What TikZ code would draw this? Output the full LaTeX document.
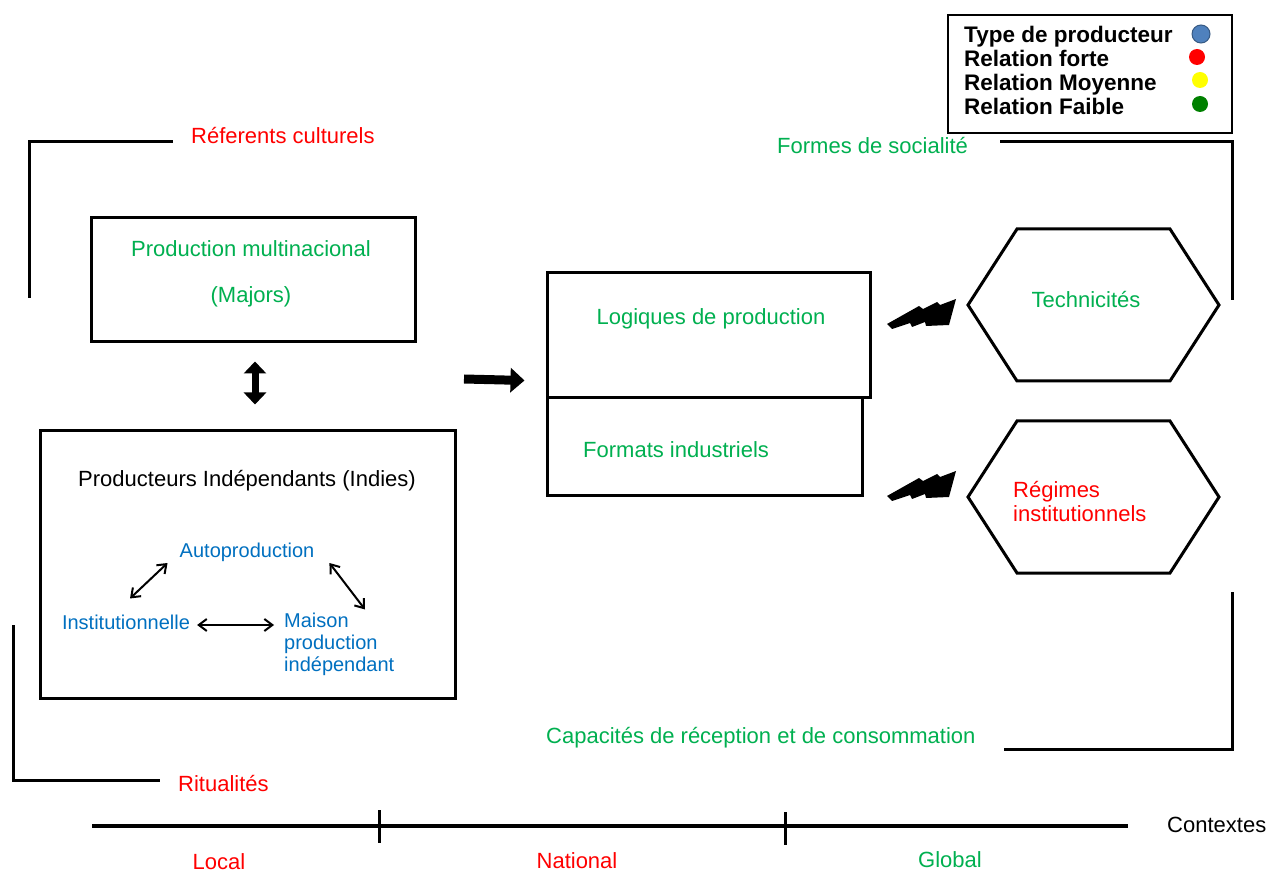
\documentclass[tikz,border=0pt]{standalone}
\usepackage{fontspec}
\setmainfont{Liberation Sans}
\usetikzlibrary{arrows.meta,calc}
\definecolor{vert}{RGB}{0,176,80}
\definecolor{rouge}{RGB}{255,0,0}
\definecolor{bleu}{RGB}{0,112,192}
\definecolor{dotblue}{RGB}{79,129,189}
\definecolor{dotyellow}{RGB}{255,255,0}
\definecolor{dotgreen}{RGB}{0,128,0}
\begin{document}
\begin{tikzpicture}[x=1pt,y=-1pt,
  txt/.style={inner sep=0pt, font=\fontsize{22}{24}\selectfont},
  btxt/.style={inner sep=0pt, font=\fontsize{20}{22}\selectfont, text=bleu},
  legtxt/.style={inner sep=0pt, anchor=base west, font=\fontsize{22.5}{24}\selectfont\bfseries},
  boxnode/.style={draw, line width=3pt, inner sep=0pt},
  bracket/.style={line width=3pt},
  fatarrow/.style={line width=9pt, -{Triangle[length=14pt,width=24pt]}},
  fatdbl/.style={line width=7pt, {Triangle[length=12pt,width=22pt]}-{Triangle[length=12pt,width=22pt]}},
  thindbl/.style={line width=2pt, {Straight Barb[length=8pt,width=12pt]}-{Straight Barb[length=8pt,width=12pt]}},
  bolt/.style={fill=black},
  hexa/.style={line width=3pt, line join=miter},
  dot/.style={circle, inner sep=0pt, minimum size=16pt}
]
\useasboundingbox (0,0) rectangle (1270,874);
\fill[white] (0,0) rectangle (1270,874);

% Legend
\node[draw, line width=2.5pt, minimum width=284pt, minimum height=118pt, inner sep=0pt] (legend) at (1090,74) {};
\node[legtxt] (l1) at (964,43) {Type de producteur};
\node[legtxt] (l2) at (964,67) {Relation forte};
\node[legtxt] (l3) at (964,91) {Relation Moyenne};
\node[legtxt] (l4) at (964,115) {Relation Faible};
\node[dot, fill=dotblue, draw=dotblue!70!black, line width=1pt, minimum size=18pt] (d1) at (1201,34) {};
\node[dot, fill=rouge] (d2) at (1197,57) {};
\node[dot, fill=dotyellow] (d3) at (1200,80) {};
\node[dot, fill=dotgreen] (d4) at (1200,104) {};

% Brackets and context labels
\node[txt, text=rouge, anchor=west] (ref) at (191,136) {Réferents culturels};
\node[txt, text=vert, anchor=west] (formes) at (777,146) {Formes de socialité};
\node[txt, text=vert, anchor=west] (capac) at (546,738) {Capacités de réception et de consommation};
\node[txt, text=rouge, anchor=west] (ritual) at (178,784) {Ritualités};
\coordinate (b1a) at (29,298); \coordinate (b1b) at (29,142); \coordinate (b1c) at (173,142);
\coordinate (b2a) at (1000,142); \coordinate (b2b) at (1232,142); \coordinate (b2c) at (1232,300);
\coordinate (b3a) at (1232,592); \coordinate (b3b) at (1232,749); \coordinate (b3c) at (1004,749);
\coordinate (b4a) at (13,625); \coordinate (b4b) at (13,780); \coordinate (b4c) at (160,780);
\draw[bracket] (b1a) -- (b1b) -- (b1c);
\draw[bracket] (b2a) -- (b2b) -- (b2c);
\draw[bracket] (b3a) -- (b3b) -- (b3c);
\draw[bracket] (b4a) -- (b4b) -- (b4c);

% Majors
\node[boxnode, minimum width=324pt, minimum height=124pt] (majors) at (253,280) {};
\node[txt, text=vert] (majt1) at (251,249) {Production multinacional};
\node[txt, text=vert] (majt2) at (251,297) {(Majors)};

% Indies
\node[boxnode, minimum width=415pt, minimum height=267pt] (indies) at (247.5,564.5) {};
\node[txt] (indt) at (247,481) {Producteurs Indépendants (Indies)};
\node[btxt] (auto) at (247,552) {Autoproduction};
\node[btxt] (inst) at (126,622) {Institutionnelle};
\node[btxt, anchor=west, align=left] (maison) at (284,644) {Maison\\production\\indépendant};
\draw[thindbl] ($(inst.north)+(4,-16)$) -- ($(auto.west)+(-12,11)$);
\draw[thindbl] ($(auto.east)+(15,11)$) -- ($(maison.north west)+(81,-3)$);
\draw[thindbl] ($(inst.east)+(7,3)$) -- ($(maison.west)+(-10,-19)$);

\draw[fatdbl] ($(majors.south)+(2,18)$) -- ($(indies.north)+(7.5,-25)$);

% Logiques / Formats
\node[boxnode, minimum width=323pt, minimum height=125pt] (logiq) at (708.5,335.5) {};
\node[txt, text=vert] (logt) at (711,319) {Logiques de production};
\node[boxnode, minimum width=315pt, minimum height=98pt] (formats) at (704.5,447) {};
\node[txt, text=vert, anchor=west] (fort) at (583,450) {Formats industriels};
\coordinate (arrs) at (464,379);
\draw[fatarrow] (arrs) -- ($(logiq.south west)+(-21,-19)$);

% Hexagons
\draw[hexa] (968,305) -- (1017,229) -- (1170,229) -- (1219,305) -- (1170,381) -- (1017,381) -- cycle;
\node[txt, text=vert] (techn) at (1086,300) {Technicités};
\draw[hexa] (968,497) -- (1017,421) -- (1170,421) -- (1219,497) -- (1170,573) -- (1017,573) -- cycle;
\node[txt, text=rouge, anchor=west, align=left] (regim) at (1013,502) {Régimes\\institutionnels};

% Lightning bolts
\foreach \dy in {0,172}{
\fill[bolt, shift={(0,\dy)}] (887,324) -- (919,306) -- (923,309) -- (937,302) -- (940,305) -- (956,299) -- (949,325) -- (926,326) -- (925,322) -- (912,327) -- (910,323) -- (892,329) -- cycle;
}

% Axis
\coordinate (ax1) at (92,826); \coordinate (ax2) at (1128,826);
\draw[line width=4.5pt] (ax1) -- (ax2);
\draw[line width=3pt] (379,810) -- (379,843);
\draw[line width=3pt] (785,812) -- (785,845);
\node[txt, anchor=west] (ctx) at (1167,825) {Contextes};
\node[txt, text=rouge] (local) at (219,862) {Local};
\node[txt, text=rouge] (natio) at (577,861) {National};
\node[txt, text=vert] (glob) at (950,860) {Global};
\end{tikzpicture}
\end{document}
